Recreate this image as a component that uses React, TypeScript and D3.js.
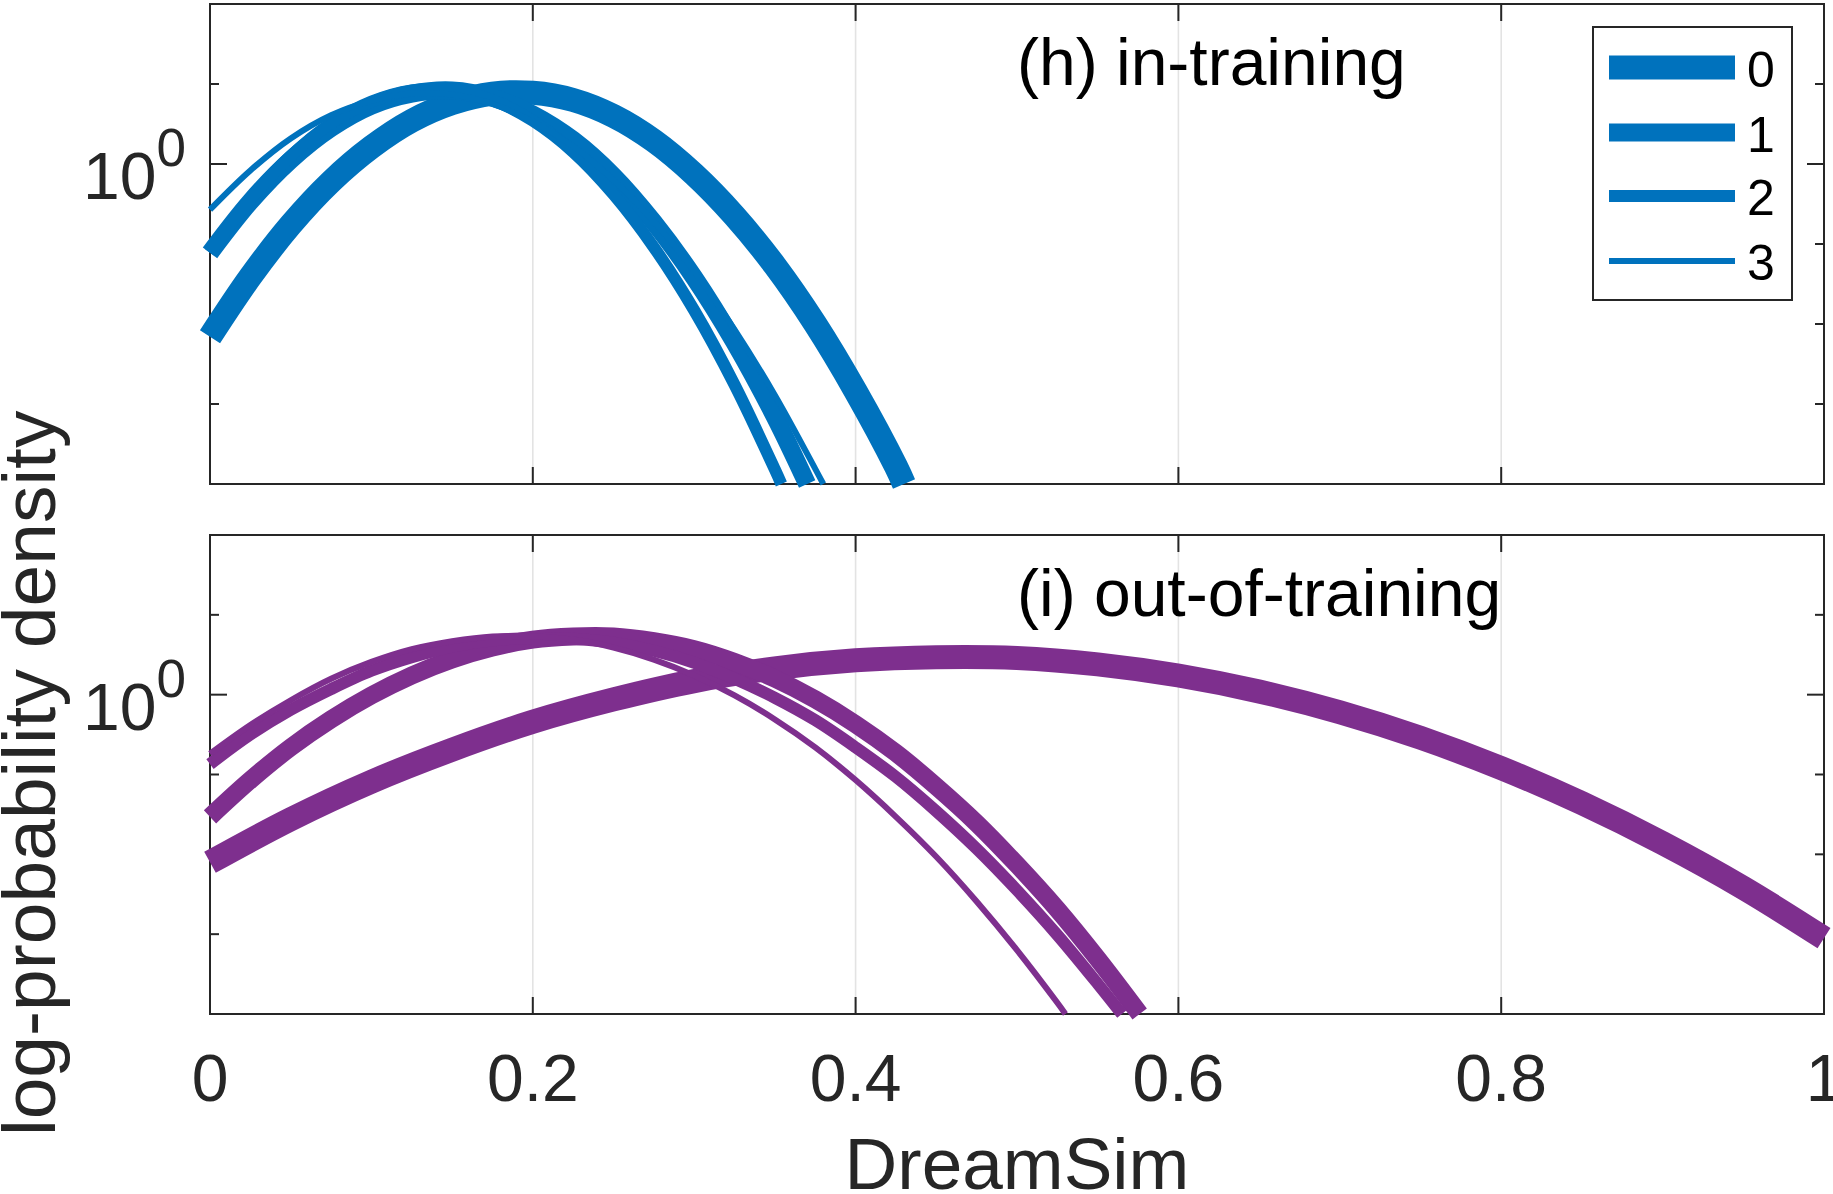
import React from 'react';
import * as d3 from 'd3';

// ---- data (log10 of probability density) ----
const X_TICKS = [0, 0.2, 0.4, 0.6, 0.8, 1];
const X_TICK_LABELS = ['0', '0.2', '0.4', '0.6', '0.8', '1'];
const Y_DECADES = [1e-4, 1e-3, 1e-2, 1e-1, 1, 10, 100];
const SERIES_LABELS = ['0', '1', '2', '3'];
const SERIES_WIDTHS = [24, 18, 12, 6];

const IN_TRAINING_0: [number, number][] = [[0,-2.16],[0.025,-1.41],[0.05,-0.76],[0.075,-0.22],[0.1,0.21],[0.125,0.54],[0.15,0.76],[0.175,0.88],[0.2,0.89],[0.225,0.80],[0.25,0.60],[0.275,0.29],[0.3,-0.13],[0.325,-0.65],[0.35,-1.27],[0.375,-2.00],[0.4,-2.84],[0.425,-3.78],[0.430,-4.0]];
const IN_TRAINING_1: [number, number][] = [[0,-1.11],[0.025,-0.47],[0.05,0.05],[0.075,0.45],[0.1,0.73],[0.125,0.88],[0.15,0.92],[0.175,0.83],[0.2,0.62],[0.225,0.30],[0.25,-0.15],[0.275,-0.73],[0.3,-1.42],[0.325,-2.23],[0.35,-3.16],[0.370,-4.0]];
const IN_TRAINING_2: [number, number][] = [[0,-1.11],[0.025,-0.44],[0.05,0.10],[0.075,0.51],[0.1,0.78],[0.125,0.92],[0.15,0.93],[0.175,0.80],[0.2,0.54],[0.225,0.15],[0.25,-0.38],[0.275,-1.04],[0.3,-1.83],[0.325,-2.76],[0.35,-3.82],[0.354,-4.0]];
const IN_TRAINING_3: [number, number][] = [[0,-0.57],[0.025,-0.08],[0.05,0.32],[0.075,0.61],[0.1,0.79],[0.125,0.88],[0.15,0.87],[0.175,0.75],[0.2,0.53],[0.225,0.22],[0.25,-0.20],[0.275,-0.72],[0.3,-1.34],[0.325,-2.07],[0.35,-2.89],[0.375,-3.81],[0.380,-4.0]];

const OUT_TRAINING_0: [number, number][] = [[0,-2.10],[0.05,-1.56],[0.1,-1.09],[0.15,-0.69],[0.2,-0.34],[0.25,-0.06],[0.3,0.17],[0.35,0.33],[0.4,0.43],[0.45,0.47],[0.5,0.46],[0.55,0.38],[0.6,0.24],[0.65,0.04],[0.7,-0.22],[0.75,-0.54],[0.8,-0.92],[0.85,-1.36],[0.9,-1.86],[0.95,-2.42],[1,-3.05]];
const OUT_TRAINING_1: [number, number][] = [[0,-1.53],[0.025,-1.07],[0.05,-0.66],[0.075,-0.31],[0.1,-0.01],[0.125,0.24],[0.15,0.44],[0.175,0.59],[0.2,0.69],[0.225,0.73],[0.25,0.73],[0.275,0.67],[0.3,0.57],[0.325,0.41],[0.35,0.20],[0.375,-0.06],[0.4,-0.37],[0.425,-0.73],[0.45,-1.15],[0.475,-1.61],[0.5,-2.13],[0.525,-2.69],[0.55,-3.31],[0.576,-4.0]];
const OUT_TRAINING_2: [number, number][] = [[0,-0.87],[0.025,-0.50],[0.05,-0.19],[0.075,0.07],[0.1,0.30],[0.125,0.47],[0.15,0.60],[0.175,0.68],[0.2,0.71],[0.225,0.70],[0.25,0.65],[0.275,0.55],[0.3,0.40],[0.325,0.20],[0.35,-0.04],[0.375,-0.32],[0.4,-0.66],[0.425,-1.03],[0.45,-1.46],[0.475,-1.93],[0.5,-2.45],[0.525,-3.01],[0.55,-3.62],[0.565,-4.0]];
const OUT_TRAINING_3: [number, number][] = [[0,-0.74],[0.025,-0.38],[0.05,-0.07],[0.075,0.20],[0.1,0.41],[0.125,0.57],[0.15,0.67],[0.175,0.73],[0.2,0.73],[0.225,0.69],[0.25,0.59],[0.275,0.44],[0.3,0.24],[0.325,-0.01],[0.35,-0.31],[0.375,-0.66],[0.4,-1.07],[0.425,-1.53],[0.45,-2.03],[0.475,-2.59],[0.5,-3.20],[0.525,-3.86],[0.530,-4.0]];

const BLUE = '#0072BD';
const PURPLE = '#7E2F8E';
const AXIS = '#262626';
const GRID = '#e3e3e3';
const FONT = '"Liberation Sans", Arial, Helvetica, sans-serif';

const W = 1833;
const H = 1194;
const LEFT = 210;
const RIGHT = 1824;

const panels = [
  { top: 4, bottom: 484, color: BLUE, title: '(h) in-training', series: [IN_TRAINING_0, IN_TRAINING_1, IN_TRAINING_2, IN_TRAINING_3] },
  { top: 535, bottom: 1014, color: PURPLE, title: '(i) out-of-training', series: [OUT_TRAINING_0, OUT_TRAINING_1, OUT_TRAINING_2, OUT_TRAINING_3] },
];

const xScale = d3.scaleLinear().domain([0, 1]).range([LEFT, RIGHT]);

function Panel({ p, idx }: { p: typeof panels[number]; idx: number }) {
  const y = d3.scaleLog().domain([1e-4, 1e2]).range([p.bottom, p.top]);
  const line = d3
    .line<[number, number]>()
    .x((d) => xScale(d[0]))
    .y((d) => y(Math.pow(10, d[1])))
    .curve(d3.curveCatmullRom.alpha(0.5));
  const major = 17;
  const minor = 9;
  return (
    <g>
      {X_TICKS.map((t) => (
        <line key={'g' + t} x1={xScale(t)} x2={xScale(t)} y1={p.top} y2={p.bottom} stroke={GRID} strokeWidth={1.6} />
      ))}
      <rect x={LEFT} y={p.top} width={RIGHT - LEFT} height={p.bottom - p.top} fill="none" stroke={AXIS} strokeWidth={2} />
      {X_TICKS.map((t) => (
        <g key={'t' + t}>
          <line x1={xScale(t)} x2={xScale(t)} y1={p.bottom} y2={p.bottom - major} stroke={AXIS} strokeWidth={2} />
          <line x1={xScale(t)} x2={xScale(t)} y1={p.top} y2={p.top + major} stroke={AXIS} strokeWidth={2} />
        </g>
      ))}
      {Y_DECADES.map((v) => {
        const len = v === 1 ? major : minor;
        return (
          <g key={'y' + v}>
            <line x1={LEFT} x2={LEFT + len} y1={y(v)} y2={y(v)} stroke={AXIS} strokeWidth={2} />
            <line x1={RIGHT} x2={RIGHT - len} y1={y(v)} y2={y(v)} stroke={AXIS} strokeWidth={2} />
          </g>
        );
      })}
      <text x={186} y={y(1) + 35} textAnchor="end" fontFamily={FONT} fontSize={66} fill={AXIS}>
        10<tspan fontSize={53} dy={-33}>0</tspan>
      </text>
      {p.series.map((s, i) => (
        <path
          key={'s' + i}
          d={line(s) || ''}
          fill="none"
          stroke={p.color}
          strokeWidth={SERIES_WIDTHS[i]}
          strokeLinecap="butt"
          strokeLinejoin="round"
        />
      ))}
      <text x={xScale(0.5)} y={p.top + 81} fontFamily={FONT} fontSize={66} fill="#000">
        {p.title}
      </text>
      {idx === 1 &&
        X_TICKS.map((t, i) => (
          <text key={'xl' + t} x={xScale(t)} y={1101} textAnchor="middle" fontFamily={FONT} fontSize={66} fill={AXIS}>
            {X_TICK_LABELS[i]}
          </text>
        ))}
    </g>
  );
}

function Legend() {
  const rows = [67.5, 132.5, 196, 261];
  return (
    <g>
      <rect x={1593} y={27} width={199} height={273} fill="#fff" stroke={AXIS} strokeWidth={2} />
      {SERIES_LABELS.map((lab, i) => (
        <g key={lab}>
          <line x1={1609} x2={1735} y1={rows[i]} y2={rows[i]} stroke={BLUE} strokeWidth={SERIES_WIDTHS[i]} />
          <text x={1747} y={rows[i] + 19} fontFamily={FONT} fontSize={50} fill="#000">
            {lab}
          </text>
        </g>
      ))}
    </g>
  );
}

export default function App() {
  return (
    <svg
      width={W}
      height={H}
      viewBox={`0 0 ${W} ${H}`}
      style={{ position: 'absolute', left: 0, top: 0, background: '#fff' }}
    >
      <rect x={0} y={0} width={W} height={H} fill="#fff" />
      {panels.map((p, i) => (
        <Panel key={i} p={p} idx={i} />
      ))}
      <Legend />
      <text x={(LEFT + RIGHT) / 2} y={1189} textAnchor="middle" fontFamily={FONT} fontSize={73} fill={AXIS}>
        DreamSim
      </text>
      <text
        transform="translate(55,1136) rotate(-90)"
        textAnchor="start"
        fontFamily={FONT}
        fontSize={75}
        fill={AXIS}
      >
        log-probability density
      </text>
    </svg>
  );
}
